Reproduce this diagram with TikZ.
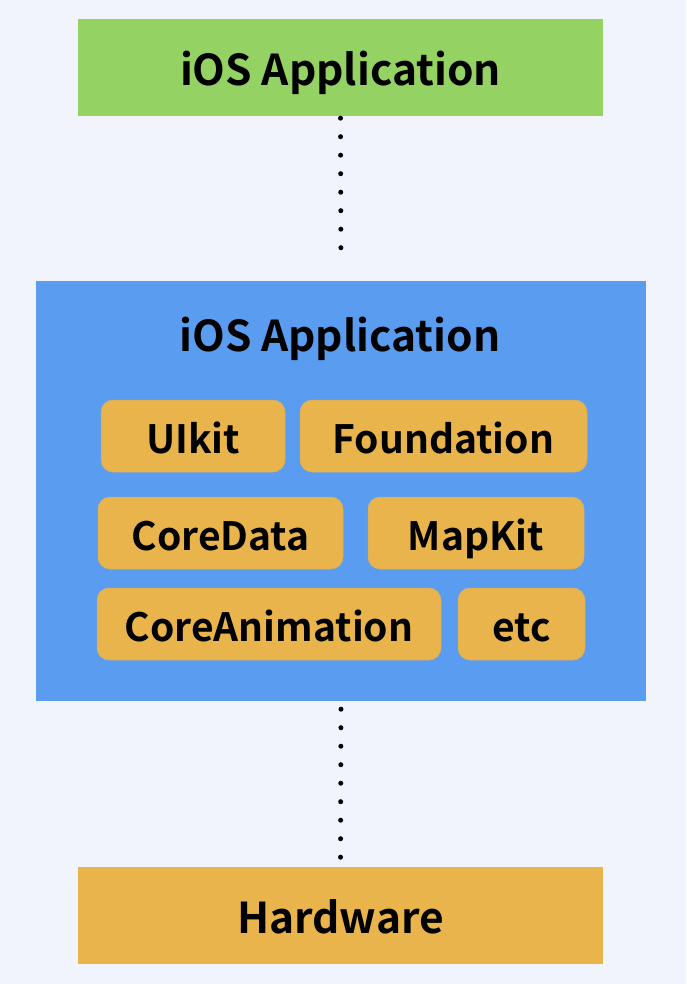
\documentclass[tikz,border=0pt]{standalone}
\usepackage{fontspec}
\newfontfamily\lblfont{Noto Sans CJK SC}[BoldFont={* Bold}]
\definecolor{bgc}{HTML}{F1F4FC}
\definecolor{greenc}{HTML}{95D264}
\definecolor{bluec}{HTML}{5A9CF0}
\definecolor{orangec}{HTML}{E9B44C}
\tikzset{
  titlefont/.style={font=\lblfont\bfseries\fontsize{42.5}{44}\selectfont},
  layerbox/.style={rectangle, inner sep=0pt, minimum width=525pt, minimum height=97pt, text height=37pt, text depth=0pt, titlefont},
  pill/.style={rectangle, rounded corners=12pt, fill=orangec, draw=orangec!85!bluec, line width=0.5pt, inner sep=0pt, minimum height=72pt, text height=34pt, text depth=0pt, font=\lblfont\bfseries\fontsize{39}{41}\selectfont},
  dotline/.style={line width=5pt, line cap=round, dash pattern=on 0pt off 18.5pt}
}
\begin{document}
\begin{tikzpicture}[x=1pt,y=-1pt]
\fill[bgc] (0,0) rectangle (686,984);
\useasboundingbox (0,0) rectangle (686,984);
\node[layerbox, fill=greenc] (app) at (340.5,67.5) {iOS Application};
\node[rectangle, fill=bluec, inner sep=0pt, minimum width=610pt, minimum height=420pt] (os) at (341,491) {};
\node[titlefont, inner sep=0pt, anchor=base] (ostitle) at (340,351) {iOS Application};
\node[pill, minimum width=184pt] (uikit) at (193,436) {UIkit};
\node[pill, minimum width=287pt] (found) at (443.5,436) {Foundation};
\node[pill, minimum width=245pt] (cdata) at (220.5,533) {CoreData};
\node[pill, minimum width=216pt] (mapkit) at (476,533) {MapKit};
\node[pill, minimum width=344pt] (canim) at (269,624) {CoreAnimation};
\node[pill, minimum width=127pt] (etc) at (521.5,624) {etc};
\node[layerbox, fill=orangec, text height=36pt] (hw) at (340.5,915) {Hardware};
\draw[dotline, shorten <=2pt, shorten >=15pt] (app.south) -- (os.north);
\draw[dotline, shorten <=8pt, shorten >=9pt] (os.south) -- (hw.north);
\end{tikzpicture}
\end{document}
